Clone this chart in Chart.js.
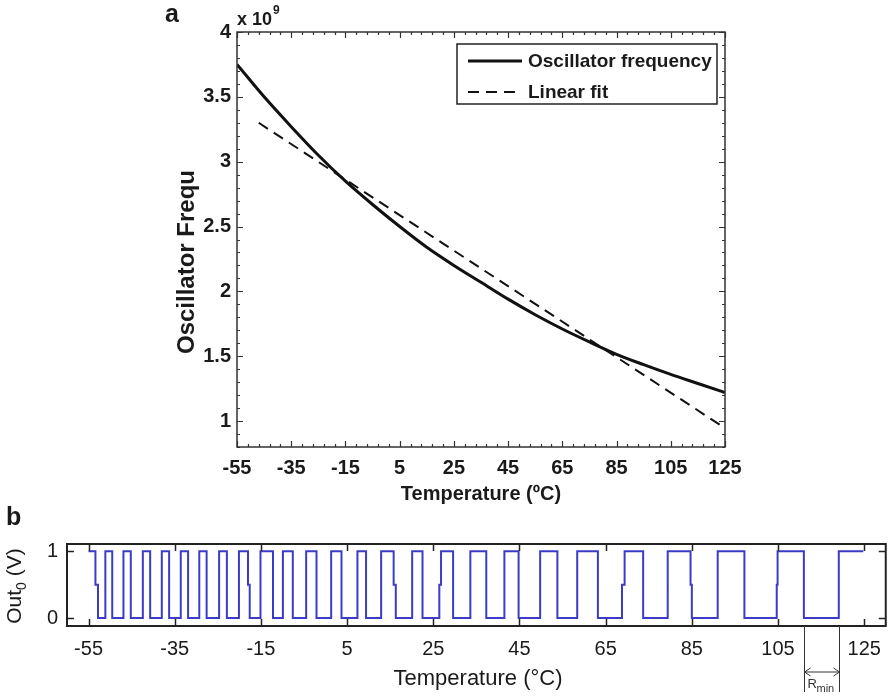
<!DOCTYPE html>
<html>
<head>
<meta charset="utf-8">
<script src="https://cdn.jsdelivr.net/npm/chart.js@4.4.1/dist/chart.umd.min.js"></script>
<style>
  html, body { margin: 0; padding: 0; background: #fff; }
  #wrap { position: relative; width: 892px; height: 697px; overflow: hidden; }
  #freq-chart { position: absolute; left: 0; top: 0; }
  #out-chart { position: absolute; left: 0; top: 500px; }
</style>
</head>
<body>
<div id="wrap">
  <canvas id="freq-chart" width="892" height="510"></canvas>
  <canvas id="out-chart" width="892" height="197"></canvas>
</div>
<script>
// panel a: oscillator frequency (x 10^9 Hz) vs temperature
const temps = [-55, -45, -35, -25, -15, -5, 5, 15, 25, 35, 45, 55, 65, 75, 85, 95, 105, 115, 125];
const freqValues = [3.75, 3.50, 3.27, 3.05, 2.85, 2.67, 2.50, 2.34, 2.20, 2.07, 1.94, 1.82, 1.71, 1.61, 1.515, 1.435, 1.36, 1.29, 1.22];
const fitTemps = [-47, 125];
const fitValues = [3.30, 0.945];
const tempTicks = [-55, -35, -15, 5, 25, 45, 65, 85, 105, 125];
const freqTicks = [1, 1.5, 2, 2.5, 3, 3.5, 4];

// panel b: Out0 square wave, edges in degC (upper half / lower half of each edge)
const outSpan = [-55, 124.8];
const outLevels = [0, 0.5, 1];
const outTicks = [0, 1];
const edgeTemps = [-53.4, -51.1, -49.5, -46.9, -45.2, -42.4, -40.7, -38.0, -36.3, -33.6,
  -31.9, -29.3, -27.6, -24.7, -22.9, -20.1, -18.0, -15.1, -12.2, -9.9,
  -7.6, -4.5, -2.1, 1.3, 3.7, 7.4, 9.4, 12.9, 15.8, 20.1,
  22.5, 26.8, 29.6, 33.6, 37.3, 41.5, 44.8, 49.8, 53.8, 58.4,
  63.2, 69.4, 73.7, 79.4, 84.7, 91.0, 97.2, 104.9, 111.0, 119.1];
const edgeLowTemps = [-52.8, -51.1, -49.5, -46.9, -45.2, -42.4, -40.7, -38.0, -36.3, -33.6,
  -31.9, -29.3, -27.6, -24.7, -22.9, -20.1, -17.6, -15.1, -12.2, -9.9,
  -7.6, -4.5, -2.1, 1.3, 3.7, 7.4, 9.4, 12.9, 16.3, 20.1,
  22.5, 26.4, 29.6, 33.6, 37.3, 41.5, 44.8, 49.8, 53.8, 58.4,
  63.2, 68.8, 73.7, 79.4, 85.0, 91.0, 97.2, 104.7, 111.0, 119.1];
const rMinIndex = 48; // R_min spans edge 48 -> 49

const FONT = "'Liberation Sans', Arial, Helvetica, sans-serif";
const INK = '#1a1a1a';

const [lo, mid, hi] = outLevels;
const wave = [{ x: outSpan[0], y: hi }];
edgeTemps.forEach((tHigh, i) => {
  const tLow = edgeLowTemps[i];
  if (i % 2 === 0) {
    wave.push({ x: tHigh, y: hi }, { x: tHigh, y: mid }, { x: tLow, y: mid }, { x: tLow, y: lo });
  } else {
    wave.push({ x: tLow, y: lo }, { x: tLow, y: mid }, { x: tHigh, y: mid }, { x: tHigh, y: hi });
  }
});
wave.push({ x: outSpan[1], y: hi });

function fixedTicks(values) {
  return (scale) => { scale.ticks = values.map((v) => ({ value: v })); };
}

function rotatedText(ctx, x, y, draw) {
  ctx.save();
  ctx.translate(x, y);
  ctx.rotate(-Math.PI / 2);
  draw();
  ctx.restore();
}

const freqFrame = {
  id: 'freqFrame',
  afterDraw(chart) {
    const { ctx, chartArea: a, scales: { x, y } } = chart;
    ctx.save();
    ctx.strokeStyle = '#333';
    ctx.lineWidth = 1.2;
    ctx.beginPath();
    for (let t = -55; t <= 125; t += 4) {
      const px = Math.round(x.getPixelForValue(t)) + 0.5;
      const len = (t + 55) % 20 === 0 ? 6 : 3;
      ctx.moveTo(px, a.bottom); ctx.lineTo(px, a.bottom - len);
      ctx.moveTo(px, a.top); ctx.lineTo(px, a.top + len);
    }
    for (let k = 8; k <= 40; k++) {
      const py = Math.round(y.getPixelForValue(k / 10)) + 0.5;
      const len = k % 5 === 0 ? 6 : 3;
      ctx.moveTo(a.left, py); ctx.lineTo(a.left + len, py);
      ctx.moveTo(a.right, py); ctx.lineTo(a.right - len, py);
    }
    ctx.stroke();
    ctx.lineWidth = 1.5;
    ctx.strokeRect(a.left, a.top, a.right - a.left, a.bottom - a.top);

    // legend
    const ds = chart.data.datasets;
    const lx = 457, ly = 44, lw = 260, lh = 60;
    ctx.fillStyle = '#fff';
    ctx.fillRect(lx, ly, lw, lh);
    ctx.strokeStyle = '#222';
    ctx.lineWidth = 1.5;
    ctx.strokeRect(lx, ly, lw, lh);
    ds.forEach((d, i) => {
      const ry = ly + 17 + i * 31;
      ctx.beginPath();
      ctx.setLineDash(d.borderDash || []);
      ctx.lineWidth = d.borderWidth;
      ctx.strokeStyle = d.borderColor;
      ctx.moveTo(lx + 11, ry);
      ctx.lineTo(lx + 65, ry);
      ctx.stroke();
      ctx.setLineDash([]);
      ctx.fillStyle = INK;
      ctx.font = 'bold 19px ' + FONT;
      ctx.textBaseline = 'middle';
      ctx.textAlign = 'left';
      ctx.fillText(d.label, lx + 71, ry + 1);
    });

    // panel letter, exponent, axis titles
    ctx.fillStyle = INK;
    ctx.textBaseline = 'alphabetic';
    ctx.textAlign = 'left';
    ctx.font = 'bold 25px ' + FONT;
    ctx.fillText('a', 165, 22);
    ctx.font = 'bold 18px ' + FONT;
    ctx.fillText('x 10', a.left, 25);
    const w = ctx.measureText('x 10').width;
    ctx.font = 'bold 12px ' + FONT;
    ctx.fillText('9', a.left + w + 1, 14);

    ctx.font = 'bold 20px ' + FONT;
    ctx.textAlign = 'center';
    ctx.fillText('Temperature (ºC)', (a.left + a.right) / 2, 500);
    rotatedText(ctx, 194, 262, () => {
      ctx.font = 'bold 24px ' + FONT;
      ctx.textAlign = 'center';
      ctx.fillText('Oscillator Frequ', 0, 0);
    });
    ctx.restore();
  }
};

const outFrame = {
  id: 'outFrame',
  afterDraw(chart) {
    const { ctx, chartArea: a, scales: { x, y } } = chart;
    ctx.save();
    ctx.strokeStyle = '#222';
    ctx.lineWidth = 1.5;
    ctx.beginPath();
    tempTicks.forEach((t) => {
      const px = Math.round(x.getPixelForValue(t)) + 0.5;
      ctx.moveTo(px, a.bottom); ctx.lineTo(px, a.bottom - 7);
      ctx.moveTo(px, a.top); ctx.lineTo(px, a.top + 7);
    });
    outTicks.forEach((v) => {
      const py = Math.round(y.getPixelForValue(v)) + 0.5;
      ctx.moveTo(a.left, py); ctx.lineTo(a.left + 7, py);
      ctx.moveTo(a.right, py); ctx.lineTo(a.right - 7, py);
    });
    ctx.stroke();
    ctx.lineWidth = 2;
    ctx.strokeRect(a.left, a.top, a.right - a.left, a.bottom - a.top);

    // R_min marker
    const x1 = Math.round(x.getPixelForValue(edgeLowTemps[rMinIndex])) + 0.5;
    const x2 = Math.round(x.getPixelForValue(edgeLowTemps[rMinIndex + 1])) + 0.5;
    const ay = a.bottom + 46;
    ctx.strokeStyle = '#333';
    ctx.lineWidth = 1;
    ctx.beginPath();
    ctx.moveTo(x1, a.bottom); ctx.lineTo(x1, a.bottom + 66);
    ctx.moveTo(x2, a.bottom); ctx.lineTo(x2, a.bottom + 66);
    ctx.moveTo(x1, ay); ctx.lineTo(x2, ay);
    ctx.moveTo(x1 + 6, ay - 4); ctx.lineTo(x1, ay); ctx.lineTo(x1 + 6, ay + 4);
    ctx.moveTo(x2 - 6, ay - 4); ctx.lineTo(x2, ay); ctx.lineTo(x2 - 6, ay + 4);
    ctx.stroke();
    ctx.fillStyle = '#333';
    ctx.textBaseline = 'alphabetic';
    ctx.textAlign = 'left';
    ctx.font = '13px ' + FONT;
    ctx.fillText('R', x1 + 3, a.bottom + 62);
    ctx.font = '11px ' + FONT;
    ctx.fillText('min', x1 + 12, a.bottom + 66);

    // panel letter and titles
    ctx.fillStyle = INK;
    ctx.font = 'bold 25px ' + FONT;
    ctx.fillText('b', 6, 25);
    ctx.font = '22px ' + FONT;
    ctx.textAlign = 'center';
    ctx.fillText('Temperature (°C)', 478, 185);
    rotatedText(ctx, 21, 86, () => {
      ctx.textAlign = 'left';
      ctx.font = '21px ' + FONT;
      const w1 = ctx.measureText('Out').width;
      ctx.font = '14px ' + FONT;
      const w2 = ctx.measureText('0').width;
      ctx.font = '21px ' + FONT;
      const w3 = ctx.measureText(' (V)').width;
      let cx = -(w1 + w2 + w3) / 2;
      ctx.fillText('Out', cx, 0);
      cx += w1;
      ctx.font = '14px ' + FONT;
      ctx.fillText('0', cx, 5);
      cx += w2;
      ctx.font = '21px ' + FONT;
      ctx.fillText(' (V)', cx, 0);
    });
    ctx.restore();
  }
};

const boldTick = { family: FONT, size: 20, weight: 'bold' };
const plainTick = { family: FONT, size: 20, weight: 'normal' };

new Chart(document.getElementById('freq-chart'), {
  type: 'line',
  data: {
    datasets: [{
      label: 'Oscillator frequency',
      data: temps.map((t, i) => ({ x: t, y: freqValues[i] })),
      borderColor: '#111',
      borderWidth: 3,
      tension: 0.4,
      cubicInterpolationMode: 'monotone',
      pointRadius: 0
    }, {
      label: 'Linear fit',
      data: fitTemps.map((t, i) => ({ x: t, y: fitValues[i] })),
      borderColor: '#111',
      borderWidth: 2,
      borderDash: [11, 7],
      pointRadius: 0
    }]
  },
  options: {
    responsive: false,
    animation: false,
    layout: { padding: { left: 0, top: 32, right: 167, bottom: 0 } },
    plugins: { legend: { display: false }, tooltip: { enabled: false } },
    scales: {
      x: {
        type: 'linear',
        min: -55,
        max: 125,
        afterBuildTicks: fixedTicks(tempTicks),
        afterFit: (s) => { s.height = 63; },
        grid: { display: false, drawTicks: false },
        border: { display: false },
        ticks: { padding: 9, font: boldTick, color: INK, maxRotation: 0, autoSkip: false, callback: (v) => String(v) }
      },
      y: {
        type: 'linear',
        min: 0.8,
        max: 4,
        afterBuildTicks: fixedTicks(freqTicks),
        afterFit: (s) => { s.width = 237; },
        grid: { display: false, drawTicks: false },
        border: { display: false },
        ticks: { padding: 6, font: boldTick, color: INK, autoSkip: false, callback: (v) => String(v) }
      }
    }
  },
  plugins: [freqFrame]
});

new Chart(document.getElementById('out-chart'), {
  type: 'line',
  data: {
    datasets: [{
      label: 'Out0',
      data: wave,
      borderColor: '#3b3bc8',
      borderWidth: 2,
      pointRadius: 0,
      tension: 0
    }]
  },
  options: {
    responsive: false,
    animation: false,
    layout: { padding: { left: 0, top: 44, right: 4, bottom: 0 } },
    plugins: { legend: { display: false }, tooltip: { enabled: false } },
    scales: {
      x: {
        type: 'linear',
        min: -60,
        max: 130,
        afterBuildTicks: fixedTicks(tempTicks),
        afterFit: (s) => { s.height = 71; },
        grid: { display: false, drawTicks: false },
        border: { display: false },
        ticks: { padding: 11, font: plainTick, color: INK, maxRotation: 0, autoSkip: false, callback: (v) => String(v) }
      },
      y: {
        type: 'linear',
        min: -0.12,
        max: 1.11,
        afterBuildTicks: fixedTicks(outTicks),
        afterFit: (s) => { s.width = 67; },
        grid: { display: false, drawTicks: false },
        border: { display: false },
        ticks: { padding: 9, font: plainTick, color: INK, autoSkip: false, callback: (v) => String(v) }
      }
    }
  },
  plugins: [outFrame]
});
</script>
</body>
</html>
